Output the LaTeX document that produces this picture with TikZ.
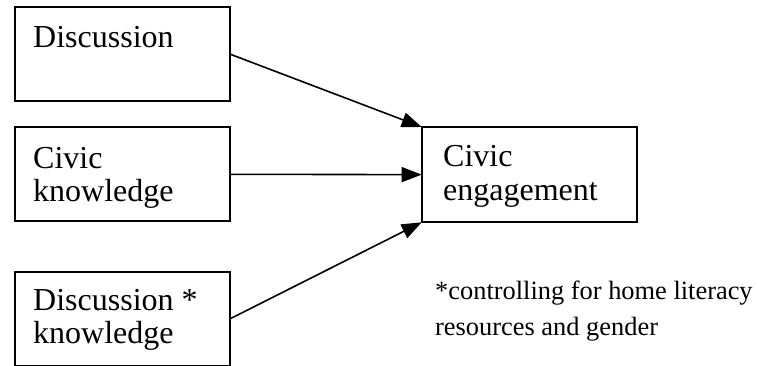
\documentclass[tikz,border=0pt]{standalone}
\usepackage{fontspec}
\setmainfont{Liberation Serif}
\usetikzlibrary{arrows.meta}
\begin{document}
\begin{tikzpicture}[x=1pt,y=-1pt,
  box/.style={draw,line width=2pt,rectangle,inner sep=0pt,outer sep=0pt,minimum width=215pt},
  lbl/.style={anchor=base west,inner sep=0pt,font=\fontsize{32}{36}\selectfont},
  note/.style={anchor=base west,inner sep=0pt,font=\fontsize{26.4}{31}\selectfont},
  link/.style={line width=1.6pt,-{Triangle[length=20pt,width=15pt]}}]
  \useasboundingbox (0,0) rectangle (757,366);
  \begin{scope}
    \clip (0,0) rectangle (757,366);
    % predictor boxes
    \node[box,minimum height=93.4pt] (disc) at (122.2,54) {};
    \node[box,minimum height=94pt] (know) at (122.2,174.3) {};
    \node[box,minimum height=94pt] (inter) at (122.2,319) {};
    % outcome box
    \node[box,minimum width=215.3pt,minimum height=95.3pt] (eng) at (529.35,174.65) {};
  \end{scope}
  % box labels
  \node[lbl] (discA) at (33,48) {Discussion};
  \node[lbl] (knowA) at (33,168.3) {Civic};
  \node[lbl] (knowB) at (33,201.7) {knowledge};
  \node[lbl] (interA) at (33,310.7) {Discussion *};
  \node[lbl] (interB) at (33,343.5) {knowledge};
  \node[lbl] (engA) at (443,167) {Civic};
  \node[lbl] (engB) at (443,200.5) {engagement};
  % footnote
  \node[note] (noteA) at (435,299) {*controlling for home literacy};
  \node[note] (noteB) at (435,335) {resources and gender};
  % paths
  \draw[link] (disc.east) -- (eng.north west);
  \draw[link] (know.east) -- (eng.west);
  \draw[link] (inter.east) -- (eng.south west);
\end{tikzpicture}
\end{document}
